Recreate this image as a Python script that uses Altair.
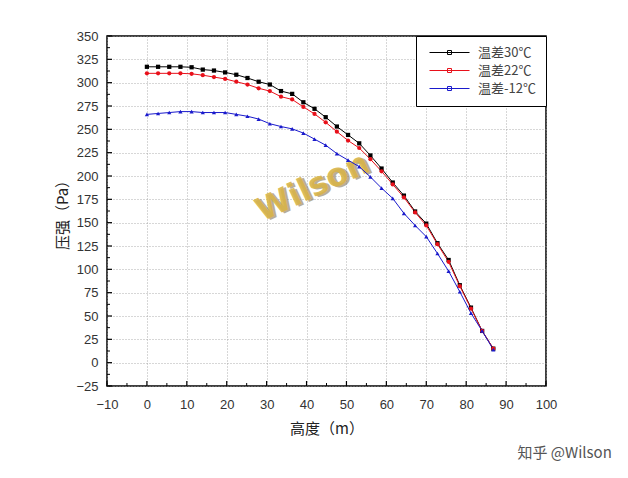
import altair as alt
import pandas as pd

# ---- data ----
heights = [0.0, 2.8, 5.6, 8.4, 11.2, 14.0, 16.8, 19.6, 22.4, 25.2, 28.0, 30.8,
           33.6, 36.4, 39.2, 42.0, 44.8, 47.6, 50.4, 53.2, 56.0, 58.8, 61.6,
           64.4, 67.2, 70.0, 72.8, 75.6, 78.4, 81.2, 84.0, 86.8]
p30 = [317, 317, 317, 317, 316.5, 314, 313, 311, 308.5, 305, 301, 298,
       291, 288, 279, 272, 263, 253, 244, 235, 222, 208, 193,
       179, 162, 149, 128, 110, 83, 59, 34, 15]
p22 = [310, 310, 310, 310, 309.5, 308, 306, 304, 301, 298, 294, 291,
       285, 282, 274, 266.5, 257.5, 247.5, 238, 230, 218, 205, 191,
       177, 161, 147, 127, 108, 82, 58, 34, 15]
pm12 = [266, 267, 268, 269, 269, 268, 268, 268, 266, 264, 261, 256,
        253, 250.5, 246, 239.5, 233, 224, 217, 210, 199, 187, 176,
        160, 147, 135, 117, 98, 76, 53, 34, 14]
series_names = ["温差30℃", "温差22℃", "温差-12℃"]
series_colors = ["#000000", "#e8101a", "#1a1acc"]
series_shapes = ["square", "circle", "triangle-up"]

x_major = [-10, 0, 10, 20, 30, 40, 50, 60, 70, 80, 90, 100]
x_minor = [-5, 5, 15, 25, 35, 45, 55, 65, 75, 85, 95]
y_major = [-25, 0, 25, 50, 75, 100, 125, 150, 175, 200, 225, 250, 275, 300, 325, 350]
y_minor = [-12.5, 12.5, 37.5, 62.5, 87.5, 112.5, 137.5, 162.5, 187.5, 212.5,
           237.5, 262.5, 287.5, 312.5, 337.5]

watermark_text = ["Wilson"]
watermark_x = [41.5]
watermark_y = [188]

W, H = 439, 350

rows = []
for name, vals in zip(series_names, [p30, p22, pm12]):
    for h, v in zip(heights, vals):
        rows.append({"高度": h, "压强": v, "series": name, "series_pt": name})
df = pd.DataFrame(rows)

xscale = alt.Scale(domain=[-10, 100], nice=False, zero=False)
yscale = alt.Scale(domain=[-25, 350], nice=False, zero=False)
cscale = alt.Scale(domain=series_names, range=series_colors)
sscale = alt.Scale(domain=series_names, range=series_shapes)

legend_path = "M-4,0L4,0M-0.4,-0.4L0.4,-0.4L0.4,0.4L-0.4,0.4Z"

label_font = "Liberation Sans"
title_font = "Noto Sans CJK SC"

x_axis = alt.Axis(values=x_major, ticks=False, grid=True,
                  labelOverlap=False, labelFlush=False,
                  labelPadding=12, titlePadding=10,
                  labelFont=label_font, labelFontSize=13,
                  labelColor="#333", titleFont=title_font,
                  titleFontSize=15, titleFontWeight="normal",
                  titleColor="#222")
y_axis = alt.Axis(values=y_major, ticks=False, grid=True,
                  labelOverlap=False, labelFlush=False,
                  labelPadding=9, titlePadding=5,
                  labelFont=label_font, labelFontSize=13,
                  labelColor="#333", titleFont=title_font,
                  titleFontSize=15, titleFontWeight="normal",
                  titleColor="#222")
x_title = "高度（m）"
y_title = "压强（Pa）"


def X(field):
    return alt.X(field, scale=xscale, axis=x_axis, title=x_title)


def Y(field):
    return alt.Y(field, scale=yscale, axis=y_axis, title=y_title)


lines = alt.Chart(df).mark_line(strokeWidth=1).encode(
    x=X("高度:Q"), y=Y("压强:Q"),
    color=alt.Color("series:N", scale=cscale, sort=series_names,
                    legend=alt.Legend(title=None, orient="top-right", offset=0,
                                      strokeColor="#000", padding=10,
                                      symbolType=legend_path, symbolSize=100,
                                      symbolStrokeWidth=1, symbolOffset=17,
                                      labelOffset=22, rowPadding=4,
                                      labelFont=title_font,
                                      labelFontSize=13, labelColor="#444",
                                      fillColor="white")),
    order=alt.Order("高度:Q"),
)

pt_cscale = alt.Scale(domain=series_names, range=series_colors)
points = alt.Chart(df).mark_point(filled=True, size=18, opacity=1).encode(
    x=X("高度:Q"), y=Y("压强:Q"),
    fill=alt.Fill("series_pt:N", scale=pt_cscale, legend=None),
    shape=alt.Shape("series_pt:N", scale=sscale, legend=None),
)

ymaj = pd.DataFrame({"v": y_major})
ymin = pd.DataFrame({"v": y_minor})
xmaj = pd.DataFrame({"v": x_major})
xmin = pd.DataFrame({"v": x_minor})

tick_y_major = alt.Chart(ymaj).mark_rule(color="#000", strokeWidth=1.2).encode(
    y=Y("v:Q"), x=alt.value(0), x2=alt.value(5))
tick_y_minor = alt.Chart(ymin).mark_rule(color="#000", strokeWidth=1).encode(
    y=Y("v:Q"), x=alt.value(0), x2=alt.value(3))
tick_x_major = alt.Chart(xmaj).mark_rule(color="#000", strokeWidth=1.2).encode(
    x=X("v:Q"), y=alt.value(H - 5), y2=alt.value(H))
tick_x_minor = alt.Chart(xmin).mark_rule(color="#000", strokeWidth=1).encode(
    x=X("v:Q"), y=alt.value(H - 3), y2=alt.value(H))

wm_df = pd.DataFrame({"t": watermark_text, "x": watermark_x, "y": watermark_y})
wm_shadow = alt.Chart(wm_df).mark_text(
    font="DejaVu Sans", fontWeight="bold", fontSize=32, angle=335,
    color="#8a7a55", opacity=0.6, dx=2, dy=2).encode(
    x=X("x:Q"), y=Y("y:Q"), text="t:N")
wm = alt.Chart(wm_df).mark_text(
    font="DejaVu Sans", fontWeight="bold", fontSize=32, angle=335,
    color="#d8b44a", opacity=0.9).encode(
    x=X("x:Q"), y=Y("y:Q"), text="t:N")

chart = alt.layer(
    wm_shadow, wm, lines, points,
    tick_y_major, tick_y_minor, tick_x_major, tick_x_minor,
).resolve_legend(
    color="independent", fill="independent", shape="independent"
).properties(
    width=W, height=H,
    autosize=alt.AutoSizeParams(type="none"),
    padding={"left": 99, "top": 28, "right": 74, "bottom": 80},
    title=alt.TitleParams("知乎 @Wilson", orient="bottom", anchor="end",
                          dx=55, offset=10, font=title_font,
                          fontSize=15, fontWeight="normal", color="#555"),
).configure(
    background="white"
).configure_view(
    stroke="#000", strokeWidth=1.5
).configure_axis(
    domain=False,
    gridColor="#999", gridDash=[1, 2], gridWidth=0.8,
)

chart.save("out.html", embed_options={"renderer": "svg", "actions": False})
